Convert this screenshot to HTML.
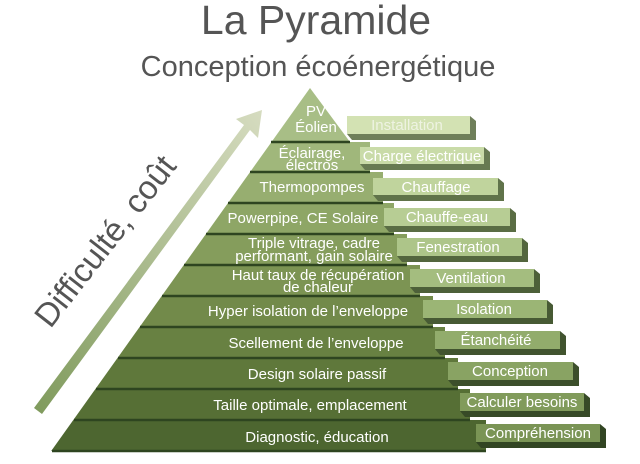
<!DOCTYPE html>
<html><head><meta charset="utf-8"><style>
html,body{margin:0;padding:0;background:#fff}
svg{display:block}
text{font-family:"Liberation Sans",sans-serif}
</style></head><body>
<svg width="640" height="464" viewBox="0 0 640 464" xmlns="http://www.w3.org/2000/svg">
<defs>
<linearGradient id="arr" x1="0" y1="1" x2="1" y2="0"><stop offset="0" stop-color="#7f9a5c"/><stop offset="1" stop-color="#d6dcc0"/></linearGradient>
</defs>
<text x="316" y="34" font-size="41" fill="#555" text-anchor="middle">La Pyramide</text>
<text x="318" y="76" font-size="29" fill="#555" text-anchor="middle">Conception écoénergétique</text>

<!-- arrow -->
<polygon points="34,408 244,125 236,119 262,110 258,138 250,130 42,414" fill="url(#arr)"/>
<text transform="translate(114,248) rotate(-52)" font-size="33" fill="#555" text-anchor="middle">Difficulté, coût</text>

<!-- bands -->
<g>
<polygon points="310,88 271.5,142 350,142" fill="#a8be86"/>
<polygon points="271.5,142 250.1,172 370,172 370,142" fill="#a0b77b"/>
<polygon points="250.1,172 228,203 383,203 383,172" fill="#97ae70"/>
<polygon points="228,203 205.9,234 394,234 394,203" fill="#8ea666"/>
<polygon points="205.9,234 183.8,265 407,265 407,234" fill="#859d5c"/>
<polygon points="183.8,265 161.7,296 420,296 420,265" fill="#7c9453"/>
<polygon points="161.7,296 139.6,327 433,327 433,296" fill="#728a4a"/>
<polygon points="139.6,327 117.5,358 445,358 445,327" fill="#688142"/>
<polygon points="117.5,358 95.4,389 458,389 458,358" fill="#5f783b"/>
<polygon points="95.4,389 73.3,420 470,420 470,389" fill="#566f35"/>
<polygon points="73.3,420 51.2,451 486,451 486,420" fill="#4d6630"/>
</g>
<g stroke="#2e4520" stroke-width="2.5">
<line x1="271" y1="142" x2="350" y2="142"/>
<line x1="250" y1="172" x2="370" y2="172"/>
<line x1="228" y1="203" x2="383" y2="203"/>
<line x1="206" y1="234" x2="394" y2="234"/>
<line x1="184" y1="265" x2="407" y2="265"/>
<line x1="162" y1="296" x2="420" y2="296"/>
<line x1="140" y1="327" x2="433" y2="327"/>
<line x1="118" y1="358" x2="445" y2="358"/>
<line x1="96" y1="389" x2="458" y2="389"/>
<line x1="74" y1="420" x2="470" y2="420"/>
<line x1="52" y1="451" x2="486" y2="451"/>
</g>
<g fill="#fff" font-size="15" text-anchor="middle">
<text x="316" y="116">PV</text>
<text x="316" y="132">Éolien</text>
<text x="312" y="158">Éclairage,</text>
<text x="312" y="170">électros</text>
<text x="312" y="192">Thermopompes</text>
<text x="303" y="223">Powerpipe, CE Solaire</text>
<text x="314" y="248">Triple vitrage, cadre</text>
<text x="314" y="261">performant, gain solaire</text>
<text x="318" y="280">Haut taux de récupération</text>
<text x="318" y="292">de chaleur</text>
<text x="308" y="316">Hyper isolation de l’enveloppe</text>
<text x="316" y="348">Scellement de l’enveloppe</text>
<text x="317" y="379">Design solaire passif</text>
<text x="310" y="410">Taille optimale, emplacement</text>
<text x="317" y="442">Diagnostic, éducation</text>
</g>

<!-- label boxes -->
<g>
<polygon points="347,134 352,140 476,140 476,121 470,116 470,134" fill="#6f7f5a"/>
<rect x="347" y="116" width="123" height="18" fill="#d3e2b3"/>
<polygon points="360,164 365,170 490,170 490,152 484,147 484,164" fill="#677a52"/>
<rect x="360" y="147" width="124" height="17" fill="#c9dba8"/>
<polygon points="373,195 378,201 504,201 504,183 498,178 498,195" fill="#60734a"/>
<rect x="373" y="178" width="125" height="17" fill="#c0d49d"/>
<polygon points="384,226 389,232 516,232 516,213 510,208 510,226" fill="#5a6d44"/>
<rect x="384" y="208" width="126" height="18" fill="#b7cd94"/>
<polygon points="397,256 402,262 528,262 528,243 522,238 522,256" fill="#53663e"/>
<rect x="397" y="238" width="125" height="18" fill="#adc589"/>
<polygon points="410,287 415,293 540,293 540,274 534,269 534,287" fill="#4d6039"/>
<rect x="410" y="269" width="124" height="18" fill="#a4bd7f"/>
<polygon points="423,318 428,324 553,324 553,305 547,300 547,318" fill="#475a34"/>
<rect x="423" y="300" width="124" height="18" fill="#9bb575"/>
<polygon points="435,349 440,355 566,355 566,336 560,331 560,349" fill="#41542f"/>
<rect x="435" y="331" width="125" height="18" fill="#92ac6c"/>
<polygon points="448,380 453,386 579,386 579,367 573,362 573,380" fill="#3c4f2b"/>
<rect x="448" y="362" width="125" height="18" fill="#89a363"/>
<polygon points="460,411 465,417 590,417 590,398 584,393 584,411" fill="#374a27"/>
<rect x="460" y="393" width="124" height="18" fill="#819b5b"/>
<polygon points="476,442 481,448 606,448 606,429 600,424 600,442" fill="#324523"/>
<rect x="476" y="424" width="124" height="18" fill="#7a9455"/>
</g>
<g font-size="15" text-anchor="middle" fill="#fff">
<text x="407" y="130" fill="#eef3e2">Installation</text>
<text x="422" y="161">Charge électrique</text>
<text x="436" y="192">Chauffage</text>
<text x="447" y="222">Chauffe-eau</text>
<text x="458" y="252">Fenestration</text>
<text x="471" y="283">Ventilation</text>
<text x="484" y="314">Isolation</text>
<text x="496" y="345">Étanchéité</text>
<text x="510" y="376">Conception</text>
<text x="522" y="407">Calculer besoins</text>
<text x="538" y="438">Compréhension</text>
</g>
</svg>
</body></html>
